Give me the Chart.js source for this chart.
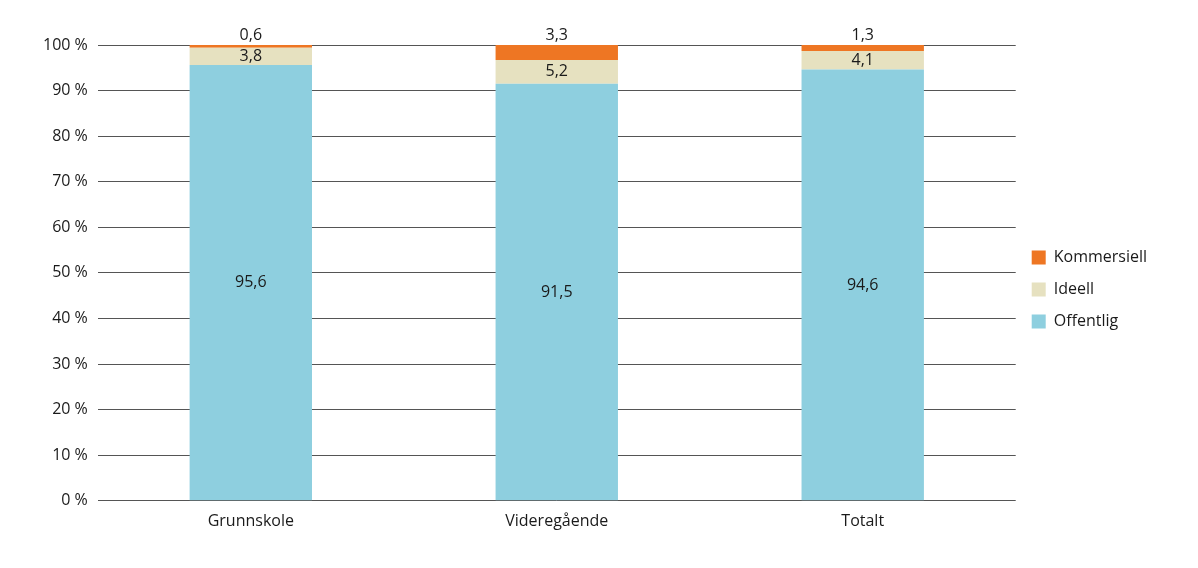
<!DOCTYPE html>
<html lang="no">
<head>
<meta charset="UTF-8">
<script src="https://cdn.jsdelivr.net/npm/chart.js@4"></script>
<style>body{margin:0;background:#fff}#wrap{width:1198px;height:568px}</style>
</head>
<body>
<div id="wrap"><canvas id="myChart"></canvas></div>
<script>
var categories = ['Grunnskole', 'Videregående', 'Totalt'];
var offentlig = [95.6, 91.5, 94.6];
var ideell = [3.8, 5.2, 4.1];
var kommersiell = [0.6, 3.3, 1.3];
var yTicks = [0, 10, 20, 30, 40, 50, 60, 70, 80, 90, 100];

function fmt(v) { return String(v).replace('.', ','); }

// value labels: middle of the segment, commercial above the bar
var labelPlugin = {
    id: 'labels',
    afterDatasetsDraw: function(chart) {
        var c = chart.ctx;
        c.save();
        c.font = '16px "Open Sans"';
        c.fillStyle = '#1a1a1a';
        c.textAlign = 'center';
        c.textBaseline = 'middle';
        chart.data.datasets.forEach(function(ds, i) {
            chart.getDatasetMeta(i).data.forEach(function(bar, j) {
                var y = i == 2 ? bar.y - 10 : (bar.y + bar.base) / 2;
                c.fillText(fmt(ds.data[j]), bar.x, y);
            });
        });
        c.restore();
    }
};

new Chart(document.getElementById('myChart'), {
    type: 'bar',
    data: {
        labels: categories,
        datasets: [
            { label: 'Offentlig', data: offentlig, backgroundColor: '#8ecfdf' },
            { label: 'Ideell', data: ideell, backgroundColor: '#e6e1c0' },
            { label: 'Kommersiell', data: kommersiell, backgroundColor: '#ee7623' }
        ]
    },
    options: {
        responsive: true,
        maintainAspectRatio: false,
        animation: false,
        layout: { padding: { top: 45, left: 33, right: 41, bottom: 34 } },
        datasets: { bar: { barPercentage: 0.8, categoryPercentage: 0.5 } },
        scales: {
            x: {
                stacked: true,
                grid: { display: false },
                border: { display: false },
                ticks: { color: '#1a1a1a', font: { family: 'Open Sans', size: 16 } }
            },
            y: {
                stacked: true,
                min: 0, max: 100,
                afterBuildTicks: function(ax) { ax.ticks = yTicks.map(function(v) { return { value: v }; }); },
                grid: { color: '#555', drawTicks: false },
                border: { display: false },
                ticks: {
                    padding: 10,
                    color: '#1a1a1a',
                    font: { family: 'Open Sans', size: 16 },
                    callback: function(v) { return v + ' %'; }
                }
            }
        },
        plugins: {
            legend: {
                position: 'right',
                reverse: true,
                labels: {
                    boxWidth: 14, boxHeight: 14, padding: 16,
                    color: '#1a1a1a',
                    font: { family: 'Open Sans', size: 16 }
                }
            },
            tooltip: { enabled: false }
        }
    },
    plugins: [labelPlugin]
});
</script>
</body>
</html>
